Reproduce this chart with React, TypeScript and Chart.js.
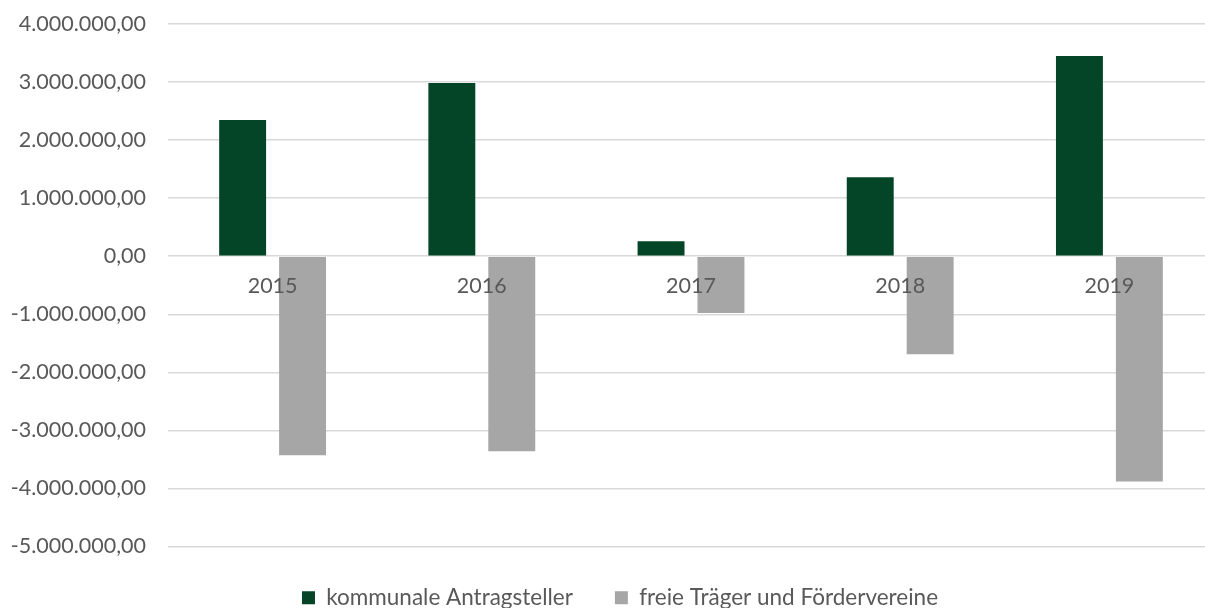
import React, { useEffect, useRef } from "react";
import { Chart, registerables } from "chart.js";

Chart.register(...registerables);

const categories = ["2015", "2016", "2017", "2018", "2019"];
const kommunaleValues = [2345000, 2985000, 260000, 1360000, 3450000];
const freieValues = [-3430000, -3360000, -980000, -1690000, -3880000];
const seriesNames = ["kommunale Antragsteller", "freie Träger und Fördervereine"];
const yTickMin = -5000000;
const yTickMax = 4000000;
const yTickStep = 1000000;

function formatDE(v: number): string {
  const neg = v < 0;
  const abs = Math.abs(Math.round(v * 100) / 100);
  const intPart = Math.floor(abs);
  const frac = Math.round((abs - intPart) * 100);
  const intStr = String(intPart).replace(/\B(?=(\d{3})+(?!\d))/g, ".");
  return (neg ? "-" : "") + intStr + "," + String(frac).padStart(2, "0");
}

const shiftLegend = {
  id: "shiftLegend",
  afterLayout(chart: any) {
    const l = chart.legend;
    if (l) {
      l.left += 13;
      l.right += 13;
      l.top -= 2;
      l.bottom -= 2;
    }
  },
};

export default function App() {
  const canvasRef = useRef<HTMLCanvasElement | null>(null);

  useEffect(() => {
    if (!canvasRef.current) return;
    const font = { family: "Lato", size: 21.5 };
    const chart = new Chart(canvasRef.current, {
      type: "bar",
      data: {
        labels: categories,
        datasets: [
          {
            label: seriesNames[0],
            data: kommunaleValues,
            backgroundColor: "#034526",
            categoryPercentage: 0.573,
            barPercentage: 0.783,
          },
          {
            label: seriesNames[1],
            data: freieValues,
            backgroundColor: "#A6A6A6",
            categoryPercentage: 0.573,
            barPercentage: 0.783,
          },
        ],
      },
      options: {
        responsive: false,
        animation: false,
        layout: { padding: { top: 24, right: 26, left: 0, bottom: -13 } },
        scales: {
          x: {
            position: { y: 0 } as any,
            afterFit: (scale: any) => {
              scale.height = 0;
              scale.paddingTop = 0;
              scale.paddingBottom = 0;
              scale.paddingLeft = 0;
              scale.paddingRight = 0;
            },
            grid: { display: false, drawTicks: false },
            border: { display: false },
            ticks: { color: "#595959", font, padding: 17, z: 1 } as any,
          },
          y: {
            min: yTickMin,
            max: yTickMax,
            afterFit: (scale: any) => {
              scale.width = 168;
              scale.paddingTop = 0;
              scale.paddingBottom = 0;
            },
            grid: { color: "#D9D9D9", lineWidth: 1.5, drawTicks: false },
            border: { display: false },
            ticks: {
              stepSize: yTickStep,
              color: "#595959",
              font,
              padding: 22,
              callback: (v: any) => formatDE(Number(v)),
            },
          },
        },
        plugins: {
          legend: {
            position: "bottom",
            labels: {
              boxWidth: 13,
              boxHeight: 13,
              color: "#595959",
              font: { family: "Lato", size: 22.5 },
              padding: 42,
            },
          },
          tooltip: { enabled: false },
        },
      },
      plugins: [shiftLegend],
    });
    return () => chart.destroy();
  }, []);

  return (
    <div
      style={{
        position: "fixed",
        left: 0,
        top: 0,
        width: 1205,
        height: 608,
        overflow: "hidden",
        background: "#fff",
      }}
    >
      <canvas ref={canvasRef} width={1240} height={608} style={{ display: "block" }} />
    </div>
  );
}
